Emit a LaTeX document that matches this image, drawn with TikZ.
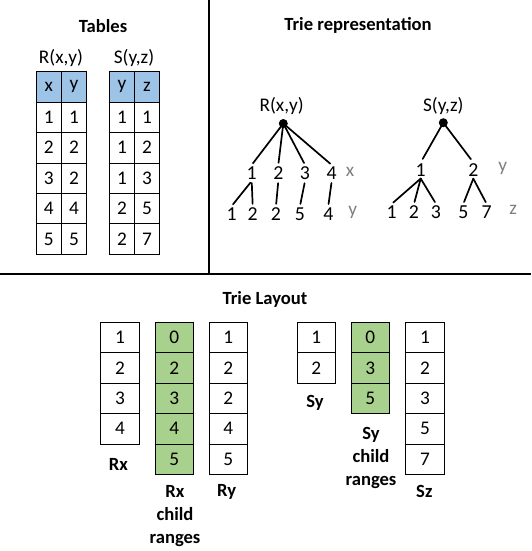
\documentclass[tikz,border=0pt]{standalone}
\usepackage{fontspec}
\setmainfont{Carlito}
\definecolor{hdrblue}{HTML}{9DC3E6}
\definecolor{cellgreen}{HTML}{A9D18E}
\definecolor{lblgray}{HTML}{7F7F7F}
\begin{document}
\begin{tikzpicture}[x=1pt,y=-1pt,
  txt/.style={font=\fontsize{19.3}{21}\selectfont, inner sep=1pt},
  ttl/.style={font=\fontsize{18.6}{20}\selectfont\bfseries, inner sep=0pt},
  lbl/.style={font=\fontsize{18.6}{23}\selectfont\bfseries, align=center, inner sep=0pt},
  tcell/.style={draw=black, line width=0.8pt, minimum width=25.2pt, minimum height=30.4pt, inner sep=0pt, font=\fontsize{19.3}{21}\selectfont},
  hcell/.style={tcell, fill=hdrblue},
  lcell/.style={draw=black, line width=0.8pt, minimum width=38.6pt, minimum height=30.4pt, inner sep=0pt, font=\fontsize{19.3}{21}\selectfont},
  gcell/.style={lcell, fill=cellgreen},
  digit/.style={font=\fontsize{19.8}{21}\selectfont, inner sep=1.5pt},
  axis/.style={font=\fontsize{19.3}{21}\selectfont, text=lblgray, inner sep=0pt},
  edge/.style={line width=1.7pt, line cap=round, shorten >=2pt},
  cedge/.style={edge, shorten <=2pt},
  rootdot/.style={circle, fill=black, inner sep=0pt, minimum size=9pt},
  sep/.style={line width=1.8pt}]
\useasboundingbox (0,0) rectangle (531,551);
% separators
\coordinate (vtop) at (208.7,0);
\coordinate (vbot) at (208.7,273.7);
\coordinate (hl) at (0,273.7);
\coordinate (hr) at (531,273.7);
\draw[sep] (vtop) -- (vbot);
\draw[sep] (hl) -- (hr);
% titles
\node[ttl] (tTables) at (103,26) {Tables};
\node[ttl] (tTrie) at (358,25) {Trie representation};
\node[ttl] (tLayout) at (265,299) {Trie Layout};
% tables
\node[txt] (Rname) at (61,58) {R(x,y)};
\node[txt] (Sname) at (134,58) {S(y,z)};
\node[hcell] (rh1) at (48.7,86.9) {x};
\node[hcell] (rh2) at (74,86.9) {y};
\node[hcell] (sh1) at (122,86.9) {y};
\node[hcell] (sh2) at (147,86.9) {z};
\foreach \a/\b [count=\i] in {1/1,2/2,3/2,4/4,5/5}{
  \node[tcell] (ra\i) at (48.7,{86.9+30.4*\i}) {\a};
  \node[tcell] (rb\i) at (74,{86.9+30.4*\i}) {\b};
}
\foreach \a/\b [count=\i] in {1/1,1/2,1/3,2/5,2/7}{
  \node[tcell] (sa\i) at (122,{86.9+30.4*\i}) {\a};
  \node[tcell] (sb\i) at (147,{86.9+30.4*\i}) {\b};
}
% trie R
\node[txt] (Rlab) at (281.7,106) {R(x,y)};
\node[rootdot] (Rroot) at (283.3,123.5) {};
\node[digit] (rx1) at (251.7,173) {1};
\node[digit] (rx2) at (278.3,173) {2};
\node[digit] (rx3) at (305,173) {3};
\node[digit] (rx4) at (331.7,173) {4};
\node[axis] (rxl) at (350,172) {x};
\node[digit] (ry1) at (231.7,214) {1};
\node[digit] (ry2) at (252.7,214) {2};
\node[digit] (ry3) at (276,214) {2};
\node[digit] (ry4) at (300,214) {5};
\node[digit] (ry5) at (328.3,214) {4};
\node[axis] (ryl) at (352.7,212) {y};
\foreach \n in {rx1,rx2,rx3,rx4} \draw[edge] (Rroot.center) -- (\n.north);
\draw[cedge] (rx1.south) -- (ry1.north);
\draw[cedge] (rx1.south) -- (ry2.north);
\draw[cedge] (rx2.south) -- (ry3.north);
\draw[cedge] (rx3.south) -- (ry4.north);
\draw[cedge] (rx4.south) -- (ry5.north);
% trie S
\node[txt] (Slab) at (443.3,105.5) {S(y,z)};
\node[rootdot] (Sroot) at (443.3,122.7) {};
\node[digit] (sy1) at (420.7,170.5) {1};
\node[digit] (sy2) at (473.3,170.5) {2};
\node[axis] (syl) at (502.7,168.5) {y};
\node[digit] (sz1) at (391.7,212) {1};
\node[digit] (sz2) at (414,212) {2};
\node[digit] (sz3) at (436,212) {3};
\node[digit] (sz4) at (463.3,212) {5};
\node[digit] (sz5) at (486.7,212) {7};
\node[axis] (szl) at (513.3,210) {z};
\draw[edge, shorten >=4pt] (Sroot.center) -- (sy1.north);
\draw[edge, shorten >=4pt] (Sroot.center) -- (sy2.north);
\foreach \n in {sz1,sz2,sz3} \draw[cedge, shorten <=0pt] (sy1.south) -- (\n.north);
\foreach \n in {sz4,sz5} \draw[cedge, shorten <=0pt] (sy2.south) -- (\n.north);
% layout
\foreach \v [count=\i] in {1,2,3,4} \node[lcell] (Rx\i) at (120,{307.1+30.4*\i}) {\v};
\foreach \v [count=\i] in {0,2,3,4,5} \node[gcell] (Rc\i) at (174.2,{307.1+30.4*\i}) {\v};
\foreach \v [count=\i] in {1,2,2,4,5} \node[lcell] (Ry\i) at (228.3,{307.1+30.4*\i}) {\v};
\foreach \v [count=\i] in {1,2} \node[lcell] (Sy\i) at (316.2,{307.1+30.4*\i}) {\v};
\foreach \v [count=\i] in {0,3,5} \node[gcell] (Sc\i) at (370.2,{307.1+30.4*\i}) {\v};
\foreach \v [count=\i] in {1,2,3,5,7} \node[lcell] (Sz\i) at (424.9,{307.1+30.4*\i}) {\v};
\node[lbl] (lRx) at (118.3,464.3) {Rx};
\node[lbl] (lRc) at (175,516.5) {Rx\\child\\ranges};
\node[lbl] (lRy) at (226.7,491.7) {Ry};
\node[lbl] (lSy) at (315,402.7) {Sy};
\node[lbl] (lSc) at (371,457.5) {Sy\\child\\ranges};
\node[lbl] (lSz) at (424.3,491.7) {Sz};
\end{tikzpicture}
\end{document}
